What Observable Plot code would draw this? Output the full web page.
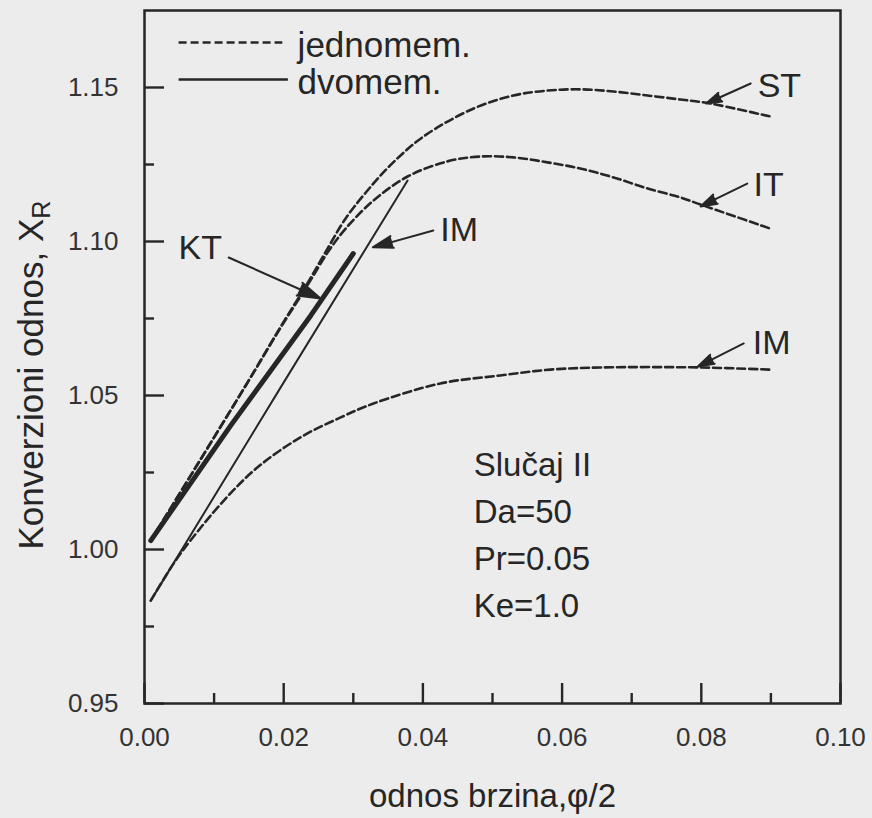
<!DOCTYPE html>
<html><head><meta charset="utf-8">
<script src="https://cdn.jsdelivr.net/npm/d3@7"></script>
<script src="https://cdn.jsdelivr.net/npm/@observablehq/plot@0.6"></script>
<style>
html,body{margin:0;padding:0;background:#ececec;}
#chart svg{display:block;}
</style></head><body><div id="chart"></div>
<script>
// axis ticks
const xMajor = [0, 0.02, 0.04, 0.06, 0.08, 0.10];
const xMinor = [0.01, 0.03, 0.05, 0.07, 0.09];
const yMajor = [0.95, 1.00, 1.05, 1.10, 1.15];
const yMinor = [0.975, 1.025, 1.075, 1.125];

// jednomem. (dashed) curves
const stX = [0.0009,0.0091,0.0148,0.0195,0.0234,0.0263,0.0289,0.0318,0.0353,0.0401,0.0473,0.0530,0.0579,0.0626,0.0674,0.0723,0.0770,0.0813,0.0899];
const stY = [1.0029,1.0331,1.0542,1.0721,1.0864,1.0977,1.1075,1.1159,1.1247,1.1341,1.1432,1.1474,1.1490,1.1494,1.1487,1.1474,1.1461,1.1448,1.1406];
const itX = [0.0009,0.0091,0.0148,0.0195,0.0234,0.0263,0.0289,0.0329,0.0378,0.0435,0.0483,0.0530,0.0579,0.0626,0.0674,0.0723,0.0770,0.0799,0.0899];
const itY = [1.0029,1.0331,1.0542,1.0718,1.0857,1.0964,1.1042,1.1133,1.1211,1.1260,1.1276,1.1273,1.1257,1.1237,1.1208,1.1172,1.1143,1.1120,1.1042];
const imX = [0.0009,0.0042,0.0066,0.0114,0.0162,0.0224,0.0282,0.0329,0.0425,0.0511,0.0583,0.0655,0.0799,0.0899];
const imY = [0.9834,0.9955,1.0029,1.0159,1.0266,1.0364,1.0429,1.0474,1.0539,1.0565,1.0584,1.0591,1.0591,1.0584];

// dvomem. (solid) lines
const imSolidX = [0.0009, 0.0195, 0.0378];
const imSolidY = [0.9834, 1.0524, 1.1198];
const ktX = [0.0009, 0.0124, 0.0239, 0.0300];
const ktY = [1.0029, 1.0403, 1.0760, 1.0961];

// annotations (arrows + labels)
const annLabel = ["ST", "IT", "IM", "IM", "KT"];
const annX1 = [0.0871, 0.0866, 0.0861, 0.0415, 0.0121];
const annY1 = [1.1513, 1.1188, 1.0669, 1.1036, 1.0948];
const annX2 = [0.0807, 0.0799, 0.0795, 0.0328, 0.0253];
const annY2 = [1.1448, 1.1114, 1.0594, 1.0981, 1.0815];
const annTextX = [0.0881, 0.0875, 0.0874, 0.0425, 0.0049];
const annTextY = [1.1503, 1.1182, 1.0669, 1.1036, 1.0979];

// legend
const legendLabels = ["jednomem.", "dvomem."];
const legendY = [1.1646, 1.1526];
const legendX1 = 0.0049, legendX2 = [0.0198, 0.0206], legendTextX = 0.0220;

// info box
const infoLines = ["Slučaj II", "Da=50", "Pr=0.05", "Ke=1.0"];
const infoX = 0.0473, infoY = 1.0058;

const xLabel = "odnos brzina,\u03C6/2";
const yLabel = "Konverzioni odnos, X";
const yLabelSub = "R";

const rows = (name, xs, ys) => xs.map((x, i) => ({s: name, x, y: ys[i]}));
const dashed = [...rows("ST", stX, stY), ...rows("IT", itX, itY), ...rows("IM", imX, imY)];
const imSolid = rows("IM", imSolidX, imSolidY);
const kt = rows("KT", ktX, ktY);
const ann = annLabel.map((t, i) => ({t, x1: annX1[i], y1: annY1[i], x2: annX2[i], y2: annY2[i], tx: annTextX[i], ty: annTextY[i]}));

const ink = "#262626";
const font = "'Liberation Sans', Arial, Helvetica, sans-serif";
const W = 872, H = 818, mL = 144, mR = 32, mT = 10, mB = 115;
const innerW = W - mL - mR, innerH = H - mT - mB;
const majorLen = 20, minorLen = 10;

const chart = Plot.plot({
  width: W, height: H,
  marginLeft: mL, marginRight: mR, marginTop: mT, marginBottom: mB,
  style: {background: "#ececec", fontFamily: font, fontSize: "26px", color: ink},
  x: {domain: [0, 0.10]},
  y: {domain: [0.95, 1.175]},
  marks: [
    // inward tick marks
    Plot.tickX(xMajor, {x: d => d, insetTop: innerH - majorLen, stroke: ink, strokeWidth: 2.4}),
    Plot.tickX(xMinor, {x: d => d, insetTop: innerH - minorLen, stroke: ink, strokeWidth: 2.4}),
    Plot.tickY(yMajor, {y: d => d, insetRight: innerW - majorLen, stroke: ink, strokeWidth: 2.4}),
    Plot.tickY(yMinor, {y: d => d, insetRight: innerW - minorLen, stroke: ink, strokeWidth: 2.4}),
    // tick labels
    Plot.axisX(xMajor, {tickSize: 0, tickPadding: 24, tickFormat: d3.format(".2f"), label: null, fill: "#333"}),
    Plot.axisY(yMajor, {tickSize: 0, tickPadding: 26, tickFormat: d3.format(".2f"), label: null, fill: "#333"}),
    Plot.frame({stroke: ink, strokeWidth: 2.5}),
    // curves
    Plot.line(dashed, {x: "x", y: "y", z: "s", stroke: ink, strokeWidth: 2.6, strokeDasharray: "8,4", curve: "catmull-rom"}),
    Plot.line(imSolid, {x: "x", y: "y", stroke: ink, strokeWidth: 2}),
    Plot.line(kt, {x: "x", y: "y", stroke: ink, strokeWidth: 5}),
    // annotations
    Plot.arrow(ann, {x1: "x1", y1: "y1", x2: "x2", y2: "y2", stroke: ink, fill: ink, strokeWidth: 2, headLength: 18, headAngle: 34}),
    Plot.text(ann, {x: "tx", y: "ty", text: "t", textAnchor: "start", lineAnchor: "middle", fontSize: 34, fill: ink}),
    // legend
    Plot.link([legendY[0]], {x1: legendX1, x2: legendX2[0], y1: d => d, y2: d => d, stroke: ink, strokeWidth: 2.6, strokeDasharray: "8,4"}),
    Plot.link([legendY[1]], {x1: legendX1, x2: legendX2[1], y1: d => d, y2: d => d, stroke: ink, strokeWidth: 2.6}),
    Plot.text(legendLabels, {x: legendTextX, y: (d, i) => legendY[i], text: d => d, textAnchor: "start", lineAnchor: "middle", dy: 3, fontSize: 35, fill: ink}),
    // info box
    Plot.text([infoLines.join("\n")], {x: infoX, y: infoY, text: d => d, textAnchor: "start", lineAnchor: "middle", lineHeight: 1.42, fontSize: 33, fill: ink}),
    // axis titles
    Plot.text([xLabel], {frameAnchor: "bottom", text: d => d, dy: 93, textAnchor: "middle", lineAnchor: "middle", fontSize: 33, fill: ink}),
    Plot.text([yLabel], {frameAnchor: "left", text: d => d, rotate: -90, dx: -113, dy: 18, textAnchor: "middle", lineAnchor: "middle", fontSize: 35, fill: ink})
  ]
});

d3.select(chart).selectAll("text").filter(function() { return this.textContent === yLabel; })
  .append("tspan").attr("dy", "0.3em").attr("font-size", "0.72em").text(yLabelSub);

document.getElementById("chart").appendChild(chart);
</script>
</body></html>
